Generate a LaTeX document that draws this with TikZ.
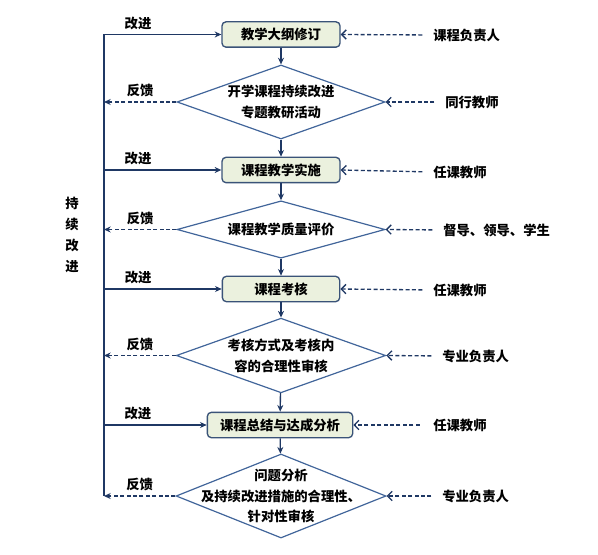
\documentclass[tikz,border=0pt]{standalone}
\usepackage{fontspec}
\setmainfont{Noto Sans CJK SC}
\usetikzlibrary{arrows.meta,shapes.geometric}

\definecolor{navy}{HTML}{1F3864}
\definecolor{steel}{HTML}{41659A}
\definecolor{boxfill}{HTML}{EBF1DE}
\definecolor{boxline}{HTML}{3A5378}

\begin{document}
\begin{tikzpicture}[x=0.75pt, y=-0.75pt, >=Stealth,
    every node/.style={font=\fontsize{10}{15.5}\selectfont\bfseries, text=black},
    stage/.style={draw=boxline, fill=boxfill, rounded corners=3pt,
        line width=1pt, minimum height=19pt, inner sep=0pt},
    check/.style={diamond, draw=steel, line width=0.9pt, inner sep=0pt},
    flow/.style={-{Stealth[length=5pt,width=4.5pt]}, navy, line width=1pt},
    back/.style={-{Stealth[length=5pt,width=4.5pt]}, navy, line width=1pt,
        dash pattern=on 3pt off 1.8pt},
    input/.style={-{Straight Barb[length=3.5pt,width=7pt]}, navy, line width=1pt,
        dash pattern=on 3pt off 1.8pt, shorten <=8pt},
    role/.style={anchor=west, inner sep=0pt},
]
    \useasboundingbox (0,0) rectangle (598,555);

    % Left line
    \coordinate (top) at (104,34.5);
    \coordinate (bot) at (104,496);
    \draw[navy, line width=1.5pt] (top) -- (bot);
    \node[align=center, font=\fontsize{10}{15.75}\selectfont\bfseries] (cont) at (72,235)
        {持\\续\\改\\进};

    % Stages and checks
    \node[stage, minimum width=88.5pt] (b1) at (281,34.5) {教学大纲修订};
    \node[check, minimum width=156pt, minimum height=55.5pt,
        label={[align=center]center:开学课程持续改进\\专题教研活动}] (d1) at (281,102) {};
    \node[stage, minimum width=88.5pt] (b2) at (281,170) {课程教学实施};
    \node[check, minimum width=156pt, minimum height=43pt,
        label={center:课程教学质量评价}] (d2) at (281,229.5) {};
    \node[stage, minimum width=88pt] (b3) at (281,289) {课程考核};
    \node[check, minimum width=157pt, minimum height=56pt,
        label={[align=center]center:考核方式及考核内\\容的合理性审核}] (d3) at (281,355.5) {};
    \node[stage, minimum width=109pt] (b4) at (280,425) {课程总结与达成分析};
    \node[check, minimum width=157.5pt, minimum height=63pt,
        label={[align=center]center:问题分析\\及持续改进措施的合理性、\\针对性审核}] (d4) at (281,496) {};

    % Main flow
    \draw[flow] (b1) -- (d1);
    \draw[flow] (d1) -- (b2);
    \draw[flow] (b2) -- (d2);
    \draw[flow] (d2) -- (b3);
    \draw[flow] (b3) -- (d3);
    \draw[flow] (d3) -- (b4);
    \draw[flow] (b4) -- (d4);

    % Improvement arrows
    \draw[flow] (top) -- (b1.west) node[above, pos=.29] {改进};
    \draw[flow] (b2.west -| top) -- (b2.west) node[above, pos=.29] {改进};
    \draw[flow] (b3.west -| top) -- (b3.west) node[above, pos=.29] {改进};
    \draw[flow] (b4.west -| top) -- (b4.west) node[above, pos=.33] {改进};

    % Feedback arrows
    \draw[back] (d1.west) -- (d1.west -| top) node[above, midway] {反馈};
    \draw[back] (d2.west) -- (d2.west -| top) node[above, midway] {反馈};
    \draw[back] (d3.west) -- (d3.west -| top) node[above, midway] {反馈};
    \draw[back] (d4.west) -- (d4.west -| top) node[above, midway] {反馈};

    % Roles
    \node[role] (r1) at (433,35) {课程负责人};
    \node[role] (r2) at (445,102) {同行教师};
    \node[role] (r3) at (433,172) {任课教师};
    \node[role] (r4) at (443,230) {督导、领导、学生};
    \node[role] (r5) at (433,290) {任课教师};
    \node[role] (r6) at (442,356) {专业负责人};
    \node[role] (r7) at (433,425) {任课教师};
    \node[role] (r8) at (442,496) {专业负责人};

    \draw[input] (r1.west) -- (b1.east);
    \draw[input] (r2.west) -- (d1.east);
    \draw[input] (r3.west) -- (b2.east);
    \draw[input] (r4.west) -- (d2.east);
    \draw[input] (r5.west) -- (b3.east);
    \draw[input] (r6.west) -- (d3.east);
    \draw[input, shorten <=10pt] (r7.west) -- (b4.east);
    \draw[input] (r8.west) -- (d4.east);

\end{tikzpicture}
\end{document}
